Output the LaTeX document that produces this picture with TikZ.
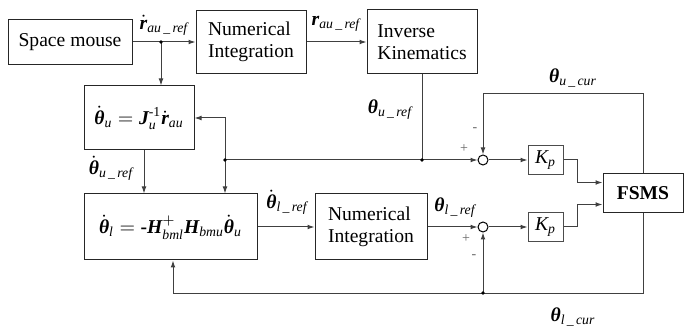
\documentclass[tikz,border=0pt]{standalone}
\usepackage{amsmath}
\usepackage{fontspec}
\setmainfont{Liberation Serif}
\usetikzlibrary{arrows.meta}
\newcommand{\bv}[1]{\text{\bfseries\itshape #1}}
\newcommand{\sbs}[1]{\text{\itshape #1}}
\tikzset{
  blk/.style={draw=black!85, align=left, inner sep=0pt},
  sumpt/.style={draw, circle, minimum size=5pt, inner sep=0pt},
  lbl/.style={inner sep=0pt},
  sgn/.style={inner sep=0pt, text=black!60, font=\fontsize{7}{8}\selectfont}
}
\begin{document}
\begin{tikzpicture}[x=0.5pt,y=-0.5pt,line width=0.5pt,
    >={Latex[length=3.5pt,width=2.4pt]},
    every node/.append style={font=\fontsize{9.8}{11}\selectfont}]
    \useasboundingbox (0,0) rectangle (685,331);
    % blocks
    \node[blk, minimum width=62pt, minimum height=22.5pt] (mouse) at (70,42) {Space mouse};
    \node[blk, minimum width=55pt, minimum height=31.5pt] (integ1) at (251,42) {Numerical\\Integration};
    \node[blk, minimum width=55pt, minimum height=32pt] (invkin) at (422,42) {Inverse\\Kinematics};
    \node[blk, minimum width=55pt, minimum height=32pt] (jbox) at (139,118)
        {$\dot{\bv{θ}}_{\sbs{u}} = \bv{J}_{\sbs{u}}^{\text{-1}}\dot{\bv{r}}_{\sbs{au}}$};
    \node[blk, minimum width=86.5pt, minimum height=33pt] (hbox) at (170.5,227)
        {$\dot{\bv{θ}}_{\sbs{l}} = \text{\bfseries -}\bv{H}^{+}_{\sbs{bml}}\bv{H}_{\sbs{bmu}}\dot{\bv{θ}}_{\sbs{u}}$};
    \node[blk, minimum width=56pt, minimum height=33pt] (integ2) at (371,227) {Numerical\\Integration};
    \node[sumpt] (sum1) at (483,160) {};
    \node[sumpt] (sum2) at (483,227) {};
    \node[blk, draw=black!70, minimum width=17.5pt, minimum height=14.5pt] (kp1) at (545.5,160) {$\sbs{K}_{\sbs{p}}$};
    \node[blk, draw=black!70, minimum width=17.5pt, minimum height=14.5pt] (kp2) at (545.5,227) {$\sbs{K}_{\sbs{p}}$};
    \node[blk, minimum width=40pt, minimum height=19.5pt] (fsms) at (643,193.5) {\textbf{FSMS}};
    % connectors
    \coordinate (j1) at (161,42);
    \coordinate (j3) at (225,160);
    \coordinate (j2) at (invkin.south |- j3);
    \coordinate (ucur) at (483,94);
    \coordinate (lcur) at (173,293);
    \coordinate (j4) at (483,293);
    \begin{scope}[draw=black!75]
    \draw[->] (mouse) -- (integ1);
    \draw[->] (j1) -- (j1 |- jbox.north);
    \draw[->] (integ1) -- (invkin);
    \draw (invkin.south) -- (j2);
    \draw[->] (j3) -- (sum1);
    \draw[->] (j3) |- (jbox.east);
    \draw[->] (j3) -- (j3 |- hbox.north);
    \draw[->] ([xshift=2.5pt]jbox.south) -- ([xshift=2.5pt]jbox.south |- hbox.north);
    \draw[->] (hbox) -- (integ2);
    \draw[->] (integ2) -- (sum2);
    \draw[->] (sum1) -- (kp1);
    \draw[->] (sum2) -- (kp2);
    \draw[->] (kp1.east) -- ++(14,0) |- ([yshift=5.5pt]fsms.west);
    \draw[->] (kp2.east) -- ++(14,0) |- ([yshift=-5.5pt]fsms.west);
    \draw[->] (fsms.north) |- (ucur) -- (sum1.north);
    \draw[->] (fsms.south) |- (lcur) -- (lcur |- hbox.south);
    \draw[->] (j4) -- (sum2.south);
    \end{scope}
    \foreach \p in {j1,j2,j3,j4}
    \fill (\p) circle (0.9pt);
    % signs
    \node[sgn] (plus1) at (464,149) {+};
    \node[sgn] (minus1) at (475,130) {-};
    \node[sgn] (plus2) at (466,239) {+};
    \node[sgn] (minus2) at (474,257) {-};
    % labels
    \node[lbl] (rdotref) at (164,25) {$\dot{\bv{r}}_{\sbs{au\,\_\,ref}}$};
    \node[lbl] (rref) at (336,24) {$\bv{r}_{\sbs{au\,\_\,ref}}$};
    \node[lbl] (thucur) at (573,78) {$\bv{θ}_{\sbs{u\,\_\,cur}}$};
    \node[lbl] (thuref) at (390,110) {$\bv{θ}_{\sbs{u\,\_\,ref}}$};
    \node[lbl] (thduref) at (111,168) {$\dot{\bv{θ}}_{\sbs{u\,\_\,ref}}$};
    \node[lbl] (thdlref) at (287,202) {$\dot{\bv{θ}}_{\sbs{l\,\_\,ref}}$};
    \node[lbl] (thlref) at (455,208) {$\bv{θ}_{\sbs{l\,\_\,ref}}$};
    \node[lbl] (thlcur) at (573,317) {$\bv{θ}_{\sbs{l\,\_\,cur}}$};
\end{tikzpicture}
\end{document}
